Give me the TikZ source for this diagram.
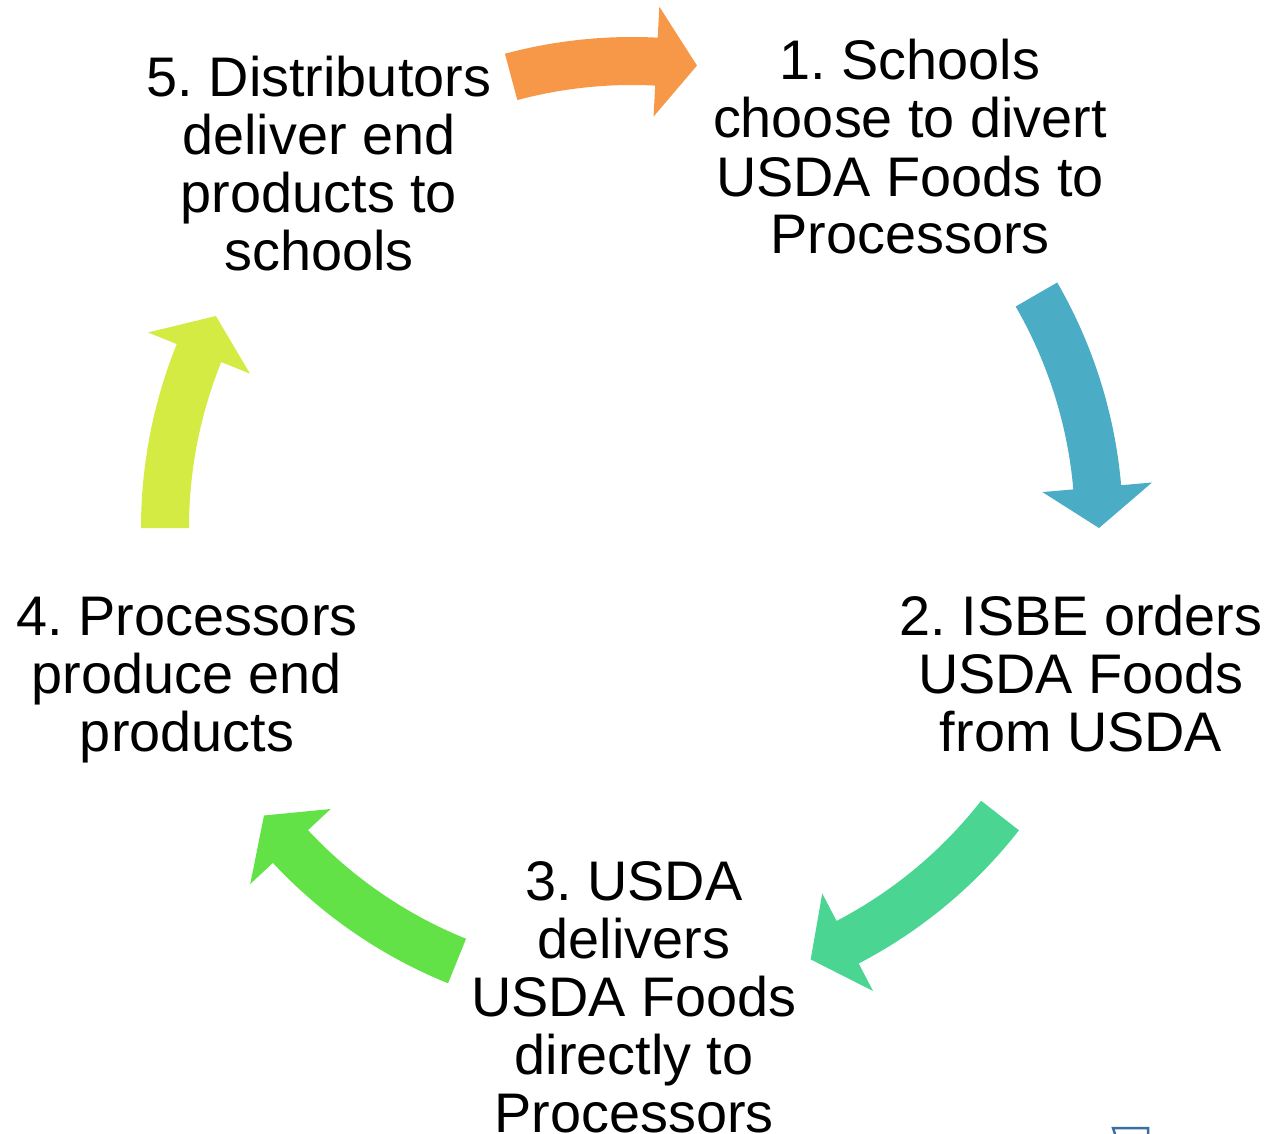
\documentclass[tikz,border=0pt]{standalone}
\usepackage{fontspec}
\setmainfont{Liberation Sans}
\frenchspacing
\definecolor{cOrange}{HTML}{F79848}
\definecolor{cBlue}{HTML}{4BACC6}
\definecolor{cGreenA}{HTML}{4AD592}
\definecolor{cGreenB}{HTML}{62E247}
\definecolor{cYellow}{HTML}{D4EB44}
\definecolor{cFrag}{HTML}{3A6FA5}
\newcommand{\cycarrow}[4]{% #1 name, #2 colour, #3 tail angle, #4 tip angle
  \pgfmathsetmacro{\ah}{#4+(#3>#4?5:-5)}
  \fill[#2] ([shift={(C)}]#3:491pt) arc[start angle=#3,end angle=\ah,radius=491pt]
    -- ([shift={(C)}]\ah:522pt) -- ([shift={(C)}]#4:467pt) coordinate (#1)
    -- ([shift={(C)}]\ah:412pt) -- ([shift={(C)}]\ah:443pt)
    arc[start angle=\ah,end angle=#3,radius=443pt] -- cycle;
}
\tikzset{
  steptext/.style={inner sep=0pt, align=center, anchor=base,
    font=\fontsize{55.8}{58}\selectfont\frenchspacing, text=black},
}
\begin{document}
\begin{tikzpicture}[x=1pt,y=1pt]
\useasboundingbox (0,0) rectangle (1266,-1134);
\coordinate (C) at (632,-528);
\cycarrow{a1}{cOrange}{105}{82}
\cycarrow{a2}{cBlue}{30}{0}
\cycarrow{a3}{cGreenA}{-38}{-67.5}
\cycarrow{a4}{cGreenB}{-112}{-142}
\cycarrow{a5}{cYellow}{180}{153}
\node[steptext] (n1) at (910,-254) {1. Schools\\choose to divert\\USDA Foods to\\Processors};
\node[steptext] (n2) at (1081,-751) {2. ISBE orders\\USDA Foods\\from USDA};
\node[steptext] (n3) at (634,-1132) {3. USDA\\delivers\\USDA Foods\\directly to\\Processors};
\node[steptext] (n4) at (187,-751) {4. Processors\\produce end\\products};
\node[steptext] (n5) at (319,-270) {5. Distributors\\deliver end\\products to\\schools};
\draw[cFrag, line width=2.5pt] (1115,-1134) -- (1113,-1128) -- (1148,-1128) -- (1148,-1134);
\end{tikzpicture}
\end{document}
